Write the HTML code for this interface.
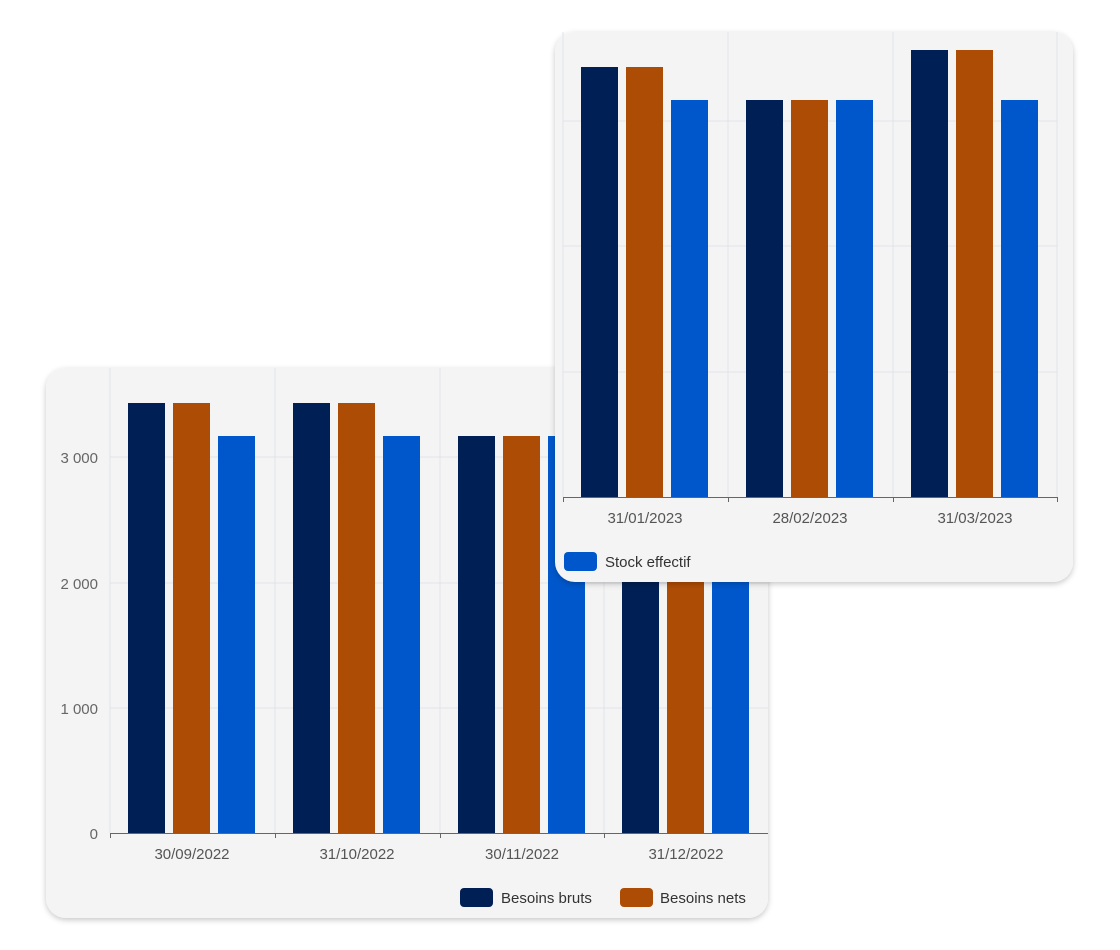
<!DOCTYPE html>
<html><head><meta charset="utf-8"><style>
html,body{margin:0;padding:0;background:#fff;width:1120px;height:950px;overflow:hidden}
svg text{font-family:"Liberation Sans",sans-serif;}
</style></head><body>
<svg width="1120" height="950" viewBox="0 0 1120 950" xmlns="http://www.w3.org/2000/svg">
<defs>
<filter id="sh" x="-10%" y="-10%" width="120%" height="120%"><feDropShadow dx="0" dy="2" stdDeviation="3" flood-color="#000" flood-opacity="0.22"/></filter>
<clipPath id="c1"><rect x="46" y="368" width="722" height="550" rx="20"/></clipPath>
</defs>
<!-- Card 1 -->
<rect x="46" y="368" width="722" height="550" rx="20" fill="#f4f4f4" filter="url(#sh)"/>
<g clip-path="url(#c1)">
<g stroke="#dfe3ea" stroke-width="1">
<line x1="110" y1="457" x2="768" y2="457"/><line x1="110" y1="583" x2="768" y2="583"/><line x1="110" y1="708" x2="768" y2="708"/>
<line x1="110" y1="368" x2="110" y2="833"/><line x1="275" y1="368" x2="275" y2="833"/><line x1="440" y1="368" x2="440" y2="833"/><line x1="604" y1="368" x2="604" y2="833"/>
</g>
<g>
<rect x="128" y="403" width="37" height="430" fill="#001f54"/><rect x="173" y="403" width="37" height="430" fill="#ad4c05"/><rect x="218" y="436" width="37" height="397" fill="#0057cb"/>
<rect x="293" y="403" width="37" height="430" fill="#001f54"/><rect x="338" y="403" width="37" height="430" fill="#ad4c05"/><rect x="383" y="436" width="37" height="397" fill="#0057cb"/>
<rect x="458" y="436" width="37" height="397" fill="#001f54"/><rect x="503" y="436" width="37" height="397" fill="#ad4c05"/><rect x="548" y="436" width="37" height="397" fill="#0057cb"/>
<rect x="622" y="436" width="37" height="397" fill="#001f54"/><rect x="667" y="436" width="37" height="397" fill="#ad4c05"/><rect x="712" y="436" width="37" height="397" fill="#0057cb"/>
</g>
<line x1="110" y1="833.5" x2="768" y2="833.5" stroke="#666" stroke-width="1"/>
<g stroke="#666"><line x1="110.5" y1="833" x2="110.5" y2="838"/><line x1="275.5" y1="833" x2="275.5" y2="838"/><line x1="440.5" y1="833" x2="440.5" y2="838"/><line x1="604.5" y1="833" x2="604.5" y2="838"/></g>
</g>
<g fill="#666" font-size="15" text-anchor="end">
<text x="98" y="463">3 000</text><text x="98" y="589">2 000</text><text x="98" y="714">1 000</text><text x="98" y="839">0</text>
</g>
<g fill="#555" font-size="15" text-anchor="middle">
<text x="192" y="859">30/09/2022</text><text x="357" y="859">31/10/2022</text><text x="522" y="859">30/11/2022</text><text x="686" y="859">31/12/2022</text>
</g>
<rect x="460" y="888" width="33" height="19" rx="4" fill="#001f54"/>
<text x="501" y="903" font-size="15" fill="#333">Besoins bruts</text>
<rect x="620" y="888" width="33" height="19" rx="4" fill="#ad4c05"/>
<text x="660" y="903" font-size="15" fill="#333">Besoins nets</text>

<!-- Card 2 -->
<rect x="555" y="32" width="518" height="550" rx="20" fill="#f4f4f4" filter="url(#sh)"/>
<g stroke="#dfe3ea" stroke-width="1">
<line x1="563" y1="121" x2="1057" y2="121"/><line x1="563" y1="246" x2="1057" y2="246"/><line x1="563" y1="372" x2="1057" y2="372"/>
<line x1="563" y1="32" x2="563" y2="497"/><line x1="728" y1="32" x2="728" y2="497"/><line x1="893" y1="32" x2="893" y2="497"/><line x1="1057" y1="32" x2="1057" y2="497"/>
</g>
<rect x="581" y="67" width="37" height="430" fill="#001f54"/><rect x="626" y="67" width="37" height="430" fill="#ad4c05"/><rect x="671" y="100" width="37" height="397" fill="#0057cb"/>
<rect x="746" y="100" width="37" height="397" fill="#001f54"/><rect x="791" y="100" width="37" height="397" fill="#ad4c05"/><rect x="836" y="100" width="37" height="397" fill="#0057cb"/>
<rect x="911" y="50" width="37" height="447" fill="#001f54"/><rect x="956" y="50" width="37" height="447" fill="#ad4c05"/><rect x="1001" y="100" width="37" height="397" fill="#0057cb"/>
<line x1="563" y1="497.5" x2="1057" y2="497.5" stroke="#666"/>
<g stroke="#666"><line x1="563.5" y1="497" x2="563.5" y2="502"/><line x1="728.5" y1="497" x2="728.5" y2="502"/><line x1="893.5" y1="497" x2="893.5" y2="502"/><line x1="1057.5" y1="497" x2="1057.5" y2="502"/></g>
<g fill="#555" font-size="15" text-anchor="middle">
<text x="645" y="523">31/01/2023</text><text x="810" y="523">28/02/2023</text><text x="975" y="523">31/03/2023</text>
</g>
<rect x="564" y="552" width="33" height="19" rx="4" fill="#0057cb"/>
<text x="605" y="567" font-size="15" fill="#333">Stock effectif</text>
</svg>
</body></html>
